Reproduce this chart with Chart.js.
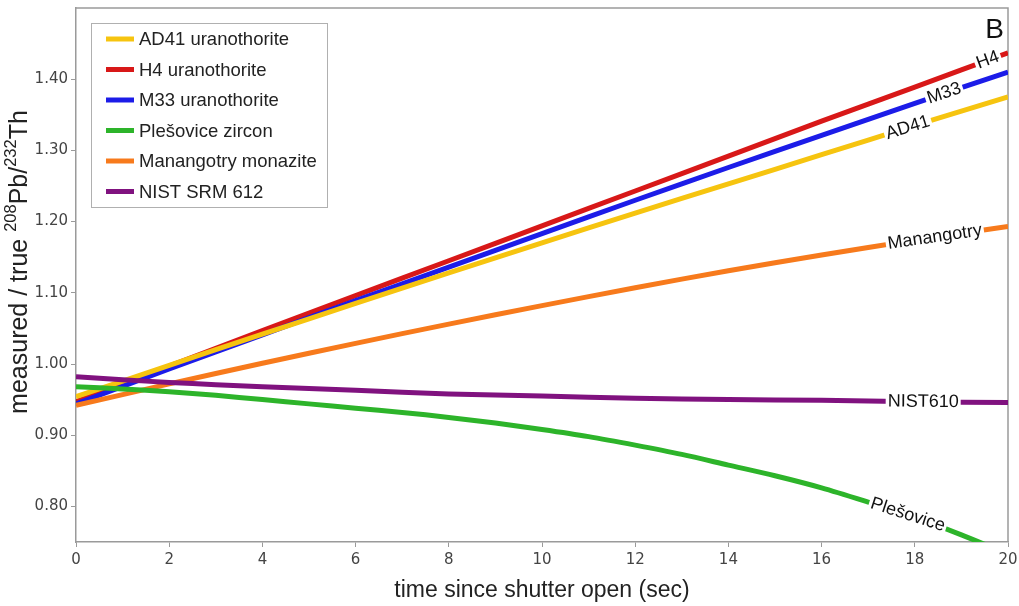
<!DOCTYPE html>
<html><head><meta charset="utf-8">
<script src="https://cdn.jsdelivr.net/npm/chart.js@4/dist/chart.umd.min.js"></script>
<style>html,body{margin:0;padding:0;background:#fff}#w{width:1019px;height:606px}</style>
</head><body><div id="w"><canvas id="c"></canvas></div>
<script>
const seriesNames = ["AD41 uranothorite","H4 uranothorite","M33 uranothorite","Plešovice zircon","Manangotry monazite","NIST SRM 612"];
const lineLabels = ["AD41","H4","M33","Plešovice","Manangotry","NIST610"];
const lineLabelX = [17.85,19.57,18.63,17.85,18.43,18.18];
const colors = ["#f6c40f","#d81818","#1c1ce8","#2db42a","#f77a1c","#80127f"];
const timeAD41 = [0,2,4,6,8,10,12,14,16,18,20];
const valAD41 = [0.954,0.998,1.042,1.085,1.128,1.170,1.212,1.253,1.294,1.335,1.375];
const timeH4 = [0,2,4,6,8,10,12,14,16,18,20];
const valH4 = [0.947,0.997,1.047,1.096,1.145,1.194,1.243,1.292,1.341,1.389,1.437];
const timeM33 = [0,2,4,6,8,10,12,14,16,18,20];
const valM33 = [0.944,0.993,1.041,1.089,1.136,1.183,1.230,1.276,1.321,1.366,1.410];
const timePle = [0,1,2,3,4,5,6,7,8,9,10,11,12,13,14,15,16,17,18,19,20];
const valPle = [0.968,0.965,0.961,0.956,0.950,0.944,0.938,0.932,0.925,0.917,0.908,0.898,0.886,0.873,0.858,0.843,0.826,0.806,0.785,0.760,0.733];
const timeMan = [0,2,4,6,8,10,12,14,16,18,20];
const valMan = [0.942,0.972,1.001,1.029,1.056,1.082,1.107,1.131,1.153,1.174,1.193];
const timeNIST = [0,1,2,3,4,6,8,10,12,14,16,18,20];
const valNIST = [0.982,0.978,0.974,0.971,0.968,0.963,0.958,0.955,0.952,0.950,0.949,0.947,0.946];
const xTicks = [0,2,4,6,8,10,12,14,16,18,20];
const yTicks = [0.80,0.90,1.00,1.10,1.20,1.30,1.40];

const times = [timeAD41,timeH4,timeM33,timePle,timeMan,timeNIST];
const vals = [valAD41,valH4,valM33,valPle,valMan,valNIST];
const datasets = seriesNames.map((n,i)=>({
  label:n,
  data: times[i].map((t,k)=>({x:t,y:vals[i][k]})),
  borderColor:colors[i], backgroundColor:colors[i],
  borderWidth:5, pointRadius:0, tension:0.3, fill:false
}));
const order = [3,5,4,0,2,1];
const ds = order.map(i=>datasets[i]);

const AX = '#9a9a9a';
const TICKFONT = {family:'"DejaVu Sans", Verdana, sans-serif', size:15};
const ARIAL = '"Liberation Sans", Arial, sans-serif';

const framePlugin = {
  id:'frame',
  beforeDatasetsDraw(chart){
    const {ctx, chartArea:a} = chart;
    ctx.save(); ctx.strokeStyle=AX; ctx.lineWidth=1.5;
    ctx.beginPath(); ctx.moveTo(a.left,a.top); ctx.lineTo(a.right,a.top); ctx.lineTo(a.right,a.bottom); ctx.stroke();
    ctx.restore();
  },
  afterDraw(chart){
    const {ctx, chartArea:a} = chart;
    ctx.save();
    ctx.fillStyle='#111'; ctx.font='28px '+ARIAL;
    ctx.textAlign='right'; ctx.textBaseline='middle';
    ctx.fillText('B', a.right-4, 30);
    ctx.fillStyle='#222'; ctx.font='23px '+ARIAL;
    ctx.textAlign='center'; ctx.textBaseline='middle';
    ctx.fillText('time since shutter open (sec)', (a.left+a.right)/2, 591);
    ctx.translate(20, 262); ctx.rotate(-Math.PI/2);
    const parts = [['measured / true ',25,0],['208',16.5,-9],['Pb/',25,0],['232',16.5,-9],['Th',25,0]];
    let w=0; parts.forEach(p=>{ctx.font=p[1]+'px '+ARIAL; w+=ctx.measureText(p[0]).width;});
    let x=-w/2; ctx.textAlign='left';
    parts.forEach(p=>{ctx.font=p[1]+'px '+ARIAL; ctx.fillText(p[0],x,p[2]); x+=ctx.measureText(p[0]).width;});
    ctx.restore();
    ctx.save();
    ctx.fillStyle='#fff'; ctx.fillRect(91,23,237,185);
    ctx.strokeStyle='#b0b0b0'; ctx.lineWidth=1; ctx.strokeRect(91.5,23.5,236,184);
    ctx.font='18.5px '+ARIAL; ctx.textBaseline='middle'; ctx.textAlign='left';
    seriesNames.forEach((n,i)=>{
      const y = 39 + i*30.5;
      ctx.strokeStyle=colors[i]; ctx.lineWidth=5; ctx.lineCap='butt';
      ctx.beginPath(); ctx.moveTo(106,y); ctx.lineTo(134,y); ctx.stroke();
      ctx.fillStyle='#222'; ctx.fillText(n,139,y+1);
    });
    ctx.restore();
  },
  afterDatasetsDraw(chart){
    const {ctx} = chart;
    const xs = chart.scales.x, ys = chart.scales.y;
    ctx.save();
    ctx.font='18px '+ARIAL;
    ctx.textAlign='center'; ctx.textBaseline='middle';
    lineLabels.forEach((lab,i)=>{
      const tx = lineLabelX[i];
      const t = times[i], v = vals[i];
      let k=0; while(k<t.length-2 && t[k+1]<tx) k++;
      const f=(tx-t[k])/(t[k+1]-t[k]);
      const yv = v[k]+f*(v[k+1]-v[k]);
      const px = xs.getPixelForValue(tx), py = ys.getPixelForValue(yv);
      const ang = Math.atan2(ys.getPixelForValue(v[k+1])-ys.getPixelForValue(v[k]), xs.getPixelForValue(t[k+1])-xs.getPixelForValue(t[k]));
      const w = ctx.measureText(lab).width;
      ctx.save(); ctx.translate(px,py); ctx.rotate(ang);
      ctx.fillStyle='#fff'; ctx.fillRect(-w/2-2,-5,w+4,10);
      ctx.fillStyle='#111'; ctx.fillText(lab,0,0);
      ctx.restore();
    });
    ctx.restore();
  }
};

new Chart(document.getElementById('c'), {
  type:'line',
  data:{datasets:ds},
  options:{
    responsive:true, maintainAspectRatio:false, animation:false,
    layout:{padding:{top:8,right:11,left:0,bottom:0}},
    plugins:{legend:{display:false}, tooltip:{enabled:false}},
    scales:{
      x:{type:'linear', min:0, max:20,
        afterFit(s){s.height=64; s.paddingLeft=0; s.paddingRight=0;},
        afterBuildTicks(s){s.ticks = xTicks.map(v=>({value:v}));},
        grid:{drawOnChartArea:false, tickLength:5, color:AX},
        border:{color:AX, width:1.5},
        ticks:{font:TICKFONT, color:'#444', padding:4, maxRotation:0}
      },
      y:{type:'linear', min:0.75, max:1.5,
        afterFit(s){s.width=76; s.paddingTop=0; s.paddingBottom=0;},
        afterBuildTicks(s){s.ticks = yTicks.map(v=>({value:v}));},
        grid:{drawOnChartArea:false, tickLength:5, color:AX},
        border:{color:AX, width:1.5},
        ticks:{font:TICKFONT, color:'#444', padding:3, callback:v=>v.toFixed(2)}
      }
    }
  },
  plugins:[framePlugin]
});
</script>
</body></html>
